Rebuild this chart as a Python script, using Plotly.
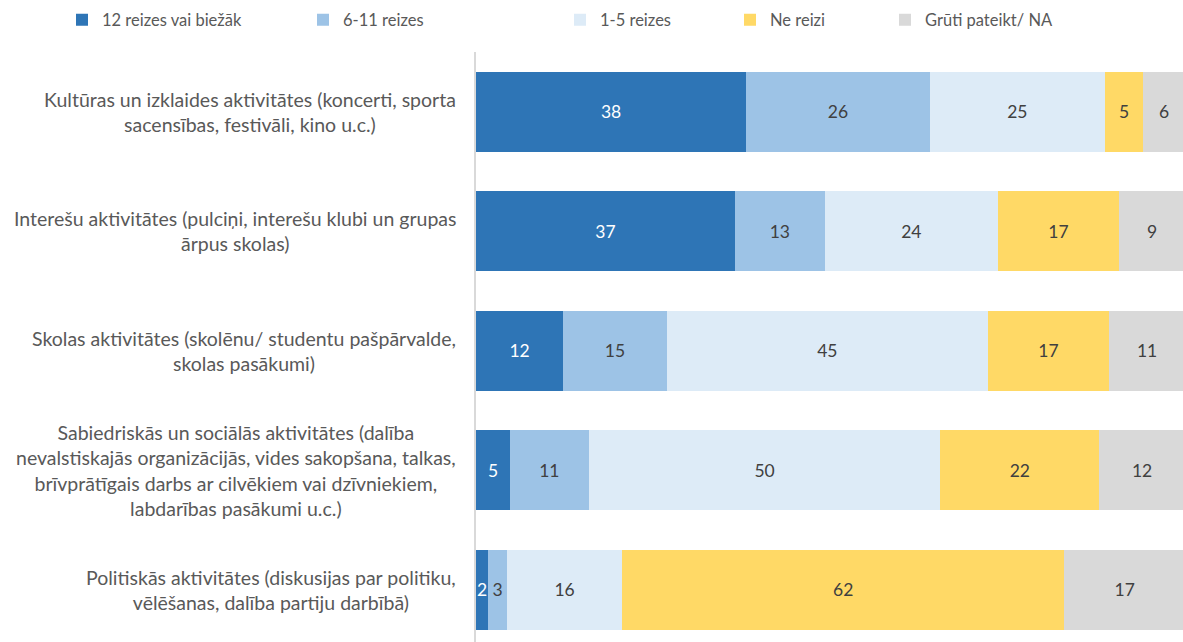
import plotly.graph_objects as go

categories = [
    "Kultūras un izklaides aktivitātes (koncerti, sporta<br>sacensības, festivāli, kino u.c.)",
    "Interešu aktivitātes (pulciņi, interešu klubi un grupas<br>ārpus skolas)",
    "Skolas aktivitātes (skolēnu/ studentu pašpārvalde,<br>skolas pasākumi)",
    "Sabiedriskās un sociālās aktivitātes (dalība<br>nevalstiskajās organizācijās, vides sakopšana, talkas,<br>brīvprātīgais darbs ar cilvēkiem vai dzīvniekiem,<br>labdarības pasākumi u.c.)",
    "Politiskās aktivitātes (diskusijas par politiku,<br>vēlēšanas, dalība partiju darbībā)",
]

series_names = ["12 reizes vai biežāk", "6-11 reizes", "1-5 reizes", "Ne reizi", "Grūti pateikt/ NA"]
v_12plus = [38.1, 36.5, 12.3, 4.8, 1.7]
v_6_11 = [25.9, 12.7, 14.6, 11.1, 2.7]
v_1_5 = [24.7, 24.4, 45.3, 49.6, 16.2]
v_never = [5.4, 17.1, 17.1, 22.4, 62.4]
v_na = [5.9, 9.3, 10.7, 12.1, 17.0]
series_values = [v_12plus, v_6_11, v_1_5, v_never, v_na]

colors = ["#2E75B6", "#9DC3E6", "#DDEBF7", "#FFD966", "#D9D9D9"]
text_colors = ["#FFFFFF", "#404040", "#404040", "#404040", "#404040"]

FONT = "Lato"
W, H = 1183, 642
L, T = 476, 52
plot_w = W - L
PX_PER_UNIT = 7.09

# legend text start positions (px)
legend_text_x = [102, 343, 600, 770, 925]

fig = go.Figure()
for i, (name, vals) in enumerate(zip(series_names, series_values)):
    lg = f"legend{i+2}"
    fig.add_trace(go.Bar(
        y=categories, x=vals, name=name, orientation="h",
        marker=dict(color=colors[i], line=dict(width=0)),
        texttemplate="%{x:.0f}", textposition="inside",
        insidetextanchor="middle",
        textfont=dict(family=FONT, size=17.5, color=text_colors[i]),
        legend=lg, hoverinfo="skip",
    ))

layout_legends = {}
for i in range(5):
    key = f"legend{i+2}"
    xpx = legend_text_x[i] - 40
    layout_legends[key] = dict(
        x=xpx / W, xanchor="left", xref="container",
        y=1 - 20 / H, yref="container", yanchor="middle",
        orientation="h", bgcolor="rgba(0,0,0,0)",
        font=dict(family=FONT, size=16.5, color="#595959"),
        itemwidth=30,
    )

span = (H - T) / 119.5
annotations = []
for c in categories:
    annotations.append(dict(
        x=0, xref="paper", y=c, yref="y", xanchor="right", xshift=-18,
        text=c, showarrow=False, align="center",
        font=dict(family=FONT, size=19.5, color="#595959"),
    ))

fig.update_layout(
    width=W, height=H,
    margin=dict(l=L, r=0, t=T, b=0),
    barmode="stack", bargap=0.33,
    showlegend=True,
    plot_bgcolor="white", paper_bgcolor="white",
    uniformtext=dict(minsize=17.5, mode="show"),
    xaxis=dict(range=[0, plot_w / PX_PER_UNIT], showgrid=False, zeroline=False,
               showticklabels=False, showline=False, fixedrange=True),
    yaxis=dict(range=[-0.5 + span, -0.5], showgrid=False, zeroline=False,
               showticklabels=False, showline=True, linecolor="#D9D9D9",
               linewidth=2, ticks="", fixedrange=True),
    annotations=annotations,
    **layout_legends,
)

fig.write_html(
    "out.html",
    config={"displayModeBar": False},
    post_script="document.body.style.margin='0';document.body.style.overflow='hidden';",
)
